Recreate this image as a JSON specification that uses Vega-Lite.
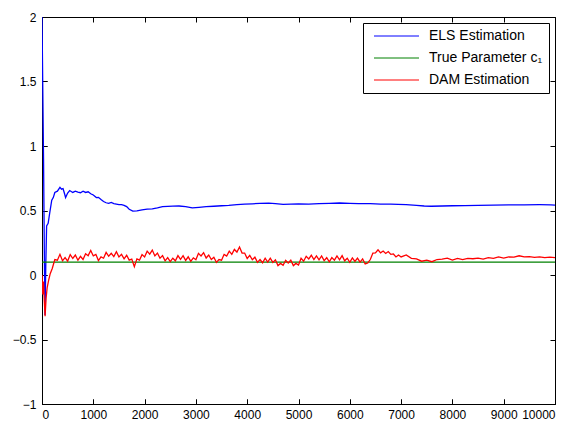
{
  "$schema": "https://vega.github.io/schema/vega-lite/v6.json",
  "width": 513,
  "height": 387,
  "autosize": {"type": "none"},
  "padding": {"left": 42, "top": 17, "right": 22, "bottom": 19},
  "background": "white",
  "config": {
    "view": {"stroke": "black", "strokeWidth": 1},
    "font": "Liberation Sans",
    "axis": {"domainColor": "black", "domainWidth": 1, "title": null, "labelColor": "black", "labelFont": "Liberation Sans", "labelFontSize": 12}
  },
  "data": {"values": [
      {"x": 0, "y": 2.0, "s": "ELS Estimation"},
      {"x": 30, "y": 0.9, "s": "ELS Estimation"},
      {"x": 45, "y": 0.2, "s": "ELS Estimation"},
      {"x": 58, "y": -0.31, "s": "ELS Estimation"},
      {"x": 75, "y": 0.1, "s": "ELS Estimation"},
      {"x": 90, "y": 0.38, "s": "ELS Estimation"},
      {"x": 120, "y": 0.4, "s": "ELS Estimation"},
      {"x": 150, "y": 0.48, "s": "ELS Estimation"},
      {"x": 190, "y": 0.58, "s": "ELS Estimation"},
      {"x": 220, "y": 0.6, "s": "ELS Estimation"},
      {"x": 250, "y": 0.64, "s": "ELS Estimation"},
      {"x": 300, "y": 0.65, "s": "ELS Estimation"},
      {"x": 350, "y": 0.68, "s": "ELS Estimation"},
      {"x": 380, "y": 0.665, "s": "ELS Estimation"},
      {"x": 410, "y": 0.67, "s": "ELS Estimation"},
      {"x": 440, "y": 0.63, "s": "ELS Estimation"},
      {"x": 460, "y": 0.6, "s": "ELS Estimation"},
      {"x": 500, "y": 0.635, "s": "ELS Estimation"},
      {"x": 540, "y": 0.655, "s": "ELS Estimation"},
      {"x": 600, "y": 0.64, "s": "ELS Estimation"},
      {"x": 650, "y": 0.65, "s": "ELS Estimation"},
      {"x": 700, "y": 0.643, "s": "ELS Estimation"},
      {"x": 750, "y": 0.638, "s": "ELS Estimation"},
      {"x": 800, "y": 0.65, "s": "ELS Estimation"},
      {"x": 850, "y": 0.64, "s": "ELS Estimation"},
      {"x": 900, "y": 0.645, "s": "ELS Estimation"},
      {"x": 950, "y": 0.63, "s": "ELS Estimation"},
      {"x": 1000, "y": 0.62, "s": "ELS Estimation"},
      {"x": 1060, "y": 0.6, "s": "ELS Estimation"},
      {"x": 1100, "y": 0.602, "s": "ELS Estimation"},
      {"x": 1150, "y": 0.585, "s": "ELS Estimation"},
      {"x": 1200, "y": 0.57, "s": "ELS Estimation"},
      {"x": 1250, "y": 0.56, "s": "ELS Estimation"},
      {"x": 1300, "y": 0.555, "s": "ELS Estimation"},
      {"x": 1350, "y": 0.562, "s": "ELS Estimation"},
      {"x": 1400, "y": 0.553, "s": "ELS Estimation"},
      {"x": 1450, "y": 0.55, "s": "ELS Estimation"},
      {"x": 1500, "y": 0.546, "s": "ELS Estimation"},
      {"x": 1550, "y": 0.545, "s": "ELS Estimation"},
      {"x": 1600, "y": 0.54, "s": "ELS Estimation"},
      {"x": 1650, "y": 0.53, "s": "ELS Estimation"},
      {"x": 1700, "y": 0.51, "s": "ELS Estimation"},
      {"x": 1770, "y": 0.495, "s": "ELS Estimation"},
      {"x": 1850, "y": 0.497, "s": "ELS Estimation"},
      {"x": 1950, "y": 0.505, "s": "ELS Estimation"},
      {"x": 2050, "y": 0.51, "s": "ELS Estimation"},
      {"x": 2150, "y": 0.513, "s": "ELS Estimation"},
      {"x": 2250, "y": 0.52, "s": "ELS Estimation"},
      {"x": 2350, "y": 0.53, "s": "ELS Estimation"},
      {"x": 2450, "y": 0.532, "s": "ELS Estimation"},
      {"x": 2550, "y": 0.534, "s": "ELS Estimation"},
      {"x": 2670, "y": 0.535, "s": "ELS Estimation"},
      {"x": 2800, "y": 0.53, "s": "ELS Estimation"},
      {"x": 2930, "y": 0.52, "s": "ELS Estimation"},
      {"x": 3060, "y": 0.525, "s": "ELS Estimation"},
      {"x": 3200, "y": 0.53, "s": "ELS Estimation"},
      {"x": 3350, "y": 0.533, "s": "ELS Estimation"},
      {"x": 3500, "y": 0.537, "s": "ELS Estimation"},
      {"x": 3640, "y": 0.54, "s": "ELS Estimation"},
      {"x": 3800, "y": 0.545, "s": "ELS Estimation"},
      {"x": 3950, "y": 0.55, "s": "ELS Estimation"},
      {"x": 4100, "y": 0.552, "s": "ELS Estimation"},
      {"x": 4250, "y": 0.555, "s": "ELS Estimation"},
      {"x": 4420, "y": 0.557, "s": "ELS Estimation"},
      {"x": 4550, "y": 0.553, "s": "ELS Estimation"},
      {"x": 4700, "y": 0.548, "s": "ELS Estimation"},
      {"x": 4850, "y": 0.55, "s": "ELS Estimation"},
      {"x": 5000, "y": 0.552, "s": "ELS Estimation"},
      {"x": 5200, "y": 0.55, "s": "ELS Estimation"},
      {"x": 5400, "y": 0.553, "s": "ELS Estimation"},
      {"x": 5600, "y": 0.556, "s": "ELS Estimation"},
      {"x": 5800, "y": 0.558, "s": "ELS Estimation"},
      {"x": 6000, "y": 0.556, "s": "ELS Estimation"},
      {"x": 6170, "y": 0.554, "s": "ELS Estimation"},
      {"x": 6400, "y": 0.553, "s": "ELS Estimation"},
      {"x": 6600, "y": 0.55, "s": "ELS Estimation"},
      {"x": 6800, "y": 0.55, "s": "ELS Estimation"},
      {"x": 6940, "y": 0.548, "s": "ELS Estimation"},
      {"x": 7100, "y": 0.546, "s": "ELS Estimation"},
      {"x": 7300, "y": 0.54, "s": "ELS Estimation"},
      {"x": 7450, "y": 0.535, "s": "ELS Estimation"},
      {"x": 7590, "y": 0.533, "s": "ELS Estimation"},
      {"x": 7800, "y": 0.535, "s": "ELS Estimation"},
      {"x": 8000, "y": 0.537, "s": "ELS Estimation"},
      {"x": 8240, "y": 0.538, "s": "ELS Estimation"},
      {"x": 8500, "y": 0.54, "s": "ELS Estimation"},
      {"x": 8800, "y": 0.541, "s": "ELS Estimation"},
      {"x": 9100, "y": 0.543, "s": "ELS Estimation"},
      {"x": 9400, "y": 0.544, "s": "ELS Estimation"},
      {"x": 9700, "y": 0.545, "s": "ELS Estimation"},
      {"x": 9920, "y": 0.544, "s": "ELS Estimation"},
      {"x": 10000, "y": 0.542, "s": "ELS Estimation"},
      {"x": 0, "y": 0.1, "s": "True Parameter c₁"},
      {"x": 10000, "y": 0.1, "s": "True Parameter c₁"},
      {"x": 0, "y": 0.0, "s": "DAM Estimation"},
      {"x": 15, "y": -0.15, "s": "DAM Estimation"},
      {"x": 30, "y": -0.05, "s": "DAM Estimation"},
      {"x": 45, "y": -0.2, "s": "DAM Estimation"},
      {"x": 60, "y": -0.32, "s": "DAM Estimation"},
      {"x": 80, "y": -0.18, "s": "DAM Estimation"},
      {"x": 100, "y": -0.1, "s": "DAM Estimation"},
      {"x": 130, "y": -0.04, "s": "DAM Estimation"},
      {"x": 160, "y": 0.01, "s": "DAM Estimation"},
      {"x": 200, "y": 0.05, "s": "DAM Estimation"},
      {"x": 250, "y": 0.12, "s": "DAM Estimation"},
      {"x": 300, "y": 0.115, "s": "DAM Estimation"},
      {"x": 350, "y": 0.16, "s": "DAM Estimation"},
      {"x": 400, "y": 0.11, "s": "DAM Estimation"},
      {"x": 450, "y": 0.135, "s": "DAM Estimation"},
      {"x": 500, "y": 0.108, "s": "DAM Estimation"},
      {"x": 550, "y": 0.158, "s": "DAM Estimation"},
      {"x": 600, "y": 0.128, "s": "DAM Estimation"},
      {"x": 650, "y": 0.155, "s": "DAM Estimation"},
      {"x": 700, "y": 0.115, "s": "DAM Estimation"},
      {"x": 750, "y": 0.145, "s": "DAM Estimation"},
      {"x": 800, "y": 0.12, "s": "DAM Estimation"},
      {"x": 850, "y": 0.165, "s": "DAM Estimation"},
      {"x": 900, "y": 0.15, "s": "DAM Estimation"},
      {"x": 950, "y": 0.19, "s": "DAM Estimation"},
      {"x": 1000, "y": 0.148, "s": "DAM Estimation"},
      {"x": 1050, "y": 0.16, "s": "DAM Estimation"},
      {"x": 1100, "y": 0.112, "s": "DAM Estimation"},
      {"x": 1150, "y": 0.14, "s": "DAM Estimation"},
      {"x": 1200, "y": 0.13, "s": "DAM Estimation"},
      {"x": 1250, "y": 0.175, "s": "DAM Estimation"},
      {"x": 1300, "y": 0.145, "s": "DAM Estimation"},
      {"x": 1350, "y": 0.168, "s": "DAM Estimation"},
      {"x": 1400, "y": 0.143, "s": "DAM Estimation"},
      {"x": 1450, "y": 0.18, "s": "DAM Estimation"},
      {"x": 1500, "y": 0.14, "s": "DAM Estimation"},
      {"x": 1550, "y": 0.16, "s": "DAM Estimation"},
      {"x": 1600, "y": 0.125, "s": "DAM Estimation"},
      {"x": 1650, "y": 0.153, "s": "DAM Estimation"},
      {"x": 1700, "y": 0.115, "s": "DAM Estimation"},
      {"x": 1750, "y": 0.123, "s": "DAM Estimation"},
      {"x": 1800, "y": 0.065, "s": "DAM Estimation"},
      {"x": 1850, "y": 0.125, "s": "DAM Estimation"},
      {"x": 1900, "y": 0.115, "s": "DAM Estimation"},
      {"x": 1950, "y": 0.158, "s": "DAM Estimation"},
      {"x": 2000, "y": 0.14, "s": "DAM Estimation"},
      {"x": 2050, "y": 0.185, "s": "DAM Estimation"},
      {"x": 2100, "y": 0.162, "s": "DAM Estimation"},
      {"x": 2150, "y": 0.193, "s": "DAM Estimation"},
      {"x": 2200, "y": 0.148, "s": "DAM Estimation"},
      {"x": 2250, "y": 0.17, "s": "DAM Estimation"},
      {"x": 2300, "y": 0.13, "s": "DAM Estimation"},
      {"x": 2350, "y": 0.15, "s": "DAM Estimation"},
      {"x": 2400, "y": 0.11, "s": "DAM Estimation"},
      {"x": 2450, "y": 0.135, "s": "DAM Estimation"},
      {"x": 2500, "y": 0.104, "s": "DAM Estimation"},
      {"x": 2550, "y": 0.13, "s": "DAM Estimation"},
      {"x": 2600, "y": 0.11, "s": "DAM Estimation"},
      {"x": 2650, "y": 0.15, "s": "DAM Estimation"},
      {"x": 2700, "y": 0.121, "s": "DAM Estimation"},
      {"x": 2750, "y": 0.15, "s": "DAM Estimation"},
      {"x": 2800, "y": 0.113, "s": "DAM Estimation"},
      {"x": 2850, "y": 0.141, "s": "DAM Estimation"},
      {"x": 2900, "y": 0.106, "s": "DAM Estimation"},
      {"x": 2950, "y": 0.133, "s": "DAM Estimation"},
      {"x": 3000, "y": 0.118, "s": "DAM Estimation"},
      {"x": 3050, "y": 0.168, "s": "DAM Estimation"},
      {"x": 3100, "y": 0.148, "s": "DAM Estimation"},
      {"x": 3150, "y": 0.173, "s": "DAM Estimation"},
      {"x": 3200, "y": 0.132, "s": "DAM Estimation"},
      {"x": 3250, "y": 0.155, "s": "DAM Estimation"},
      {"x": 3300, "y": 0.12, "s": "DAM Estimation"},
      {"x": 3350, "y": 0.138, "s": "DAM Estimation"},
      {"x": 3400, "y": 0.098, "s": "DAM Estimation"},
      {"x": 3450, "y": 0.12, "s": "DAM Estimation"},
      {"x": 3500, "y": 0.115, "s": "DAM Estimation"},
      {"x": 3550, "y": 0.16, "s": "DAM Estimation"},
      {"x": 3600, "y": 0.147, "s": "DAM Estimation"},
      {"x": 3650, "y": 0.185, "s": "DAM Estimation"},
      {"x": 3700, "y": 0.16, "s": "DAM Estimation"},
      {"x": 3750, "y": 0.198, "s": "DAM Estimation"},
      {"x": 3800, "y": 0.178, "s": "DAM Estimation"},
      {"x": 3850, "y": 0.217, "s": "DAM Estimation"},
      {"x": 3900, "y": 0.17, "s": "DAM Estimation"},
      {"x": 3950, "y": 0.17, "s": "DAM Estimation"},
      {"x": 4000, "y": 0.128, "s": "DAM Estimation"},
      {"x": 4050, "y": 0.152, "s": "DAM Estimation"},
      {"x": 4100, "y": 0.118, "s": "DAM Estimation"},
      {"x": 4150, "y": 0.138, "s": "DAM Estimation"},
      {"x": 4200, "y": 0.098, "s": "DAM Estimation"},
      {"x": 4250, "y": 0.12, "s": "DAM Estimation"},
      {"x": 4300, "y": 0.095, "s": "DAM Estimation"},
      {"x": 4350, "y": 0.13, "s": "DAM Estimation"},
      {"x": 4400, "y": 0.1, "s": "DAM Estimation"},
      {"x": 4450, "y": 0.13, "s": "DAM Estimation"},
      {"x": 4500, "y": 0.098, "s": "DAM Estimation"},
      {"x": 4550, "y": 0.118, "s": "DAM Estimation"},
      {"x": 4600, "y": 0.073, "s": "DAM Estimation"},
      {"x": 4650, "y": 0.09, "s": "DAM Estimation"},
      {"x": 4700, "y": 0.075, "s": "DAM Estimation"},
      {"x": 4750, "y": 0.114, "s": "DAM Estimation"},
      {"x": 4800, "y": 0.093, "s": "DAM Estimation"},
      {"x": 4850, "y": 0.115, "s": "DAM Estimation"},
      {"x": 4900, "y": 0.073, "s": "DAM Estimation"},
      {"x": 4950, "y": 0.09, "s": "DAM Estimation"},
      {"x": 5000, "y": 0.078, "s": "DAM Estimation"},
      {"x": 5050, "y": 0.13, "s": "DAM Estimation"},
      {"x": 5100, "y": 0.107, "s": "DAM Estimation"},
      {"x": 5150, "y": 0.145, "s": "DAM Estimation"},
      {"x": 5200, "y": 0.125, "s": "DAM Estimation"},
      {"x": 5250, "y": 0.153, "s": "DAM Estimation"},
      {"x": 5300, "y": 0.12, "s": "DAM Estimation"},
      {"x": 5350, "y": 0.148, "s": "DAM Estimation"},
      {"x": 5400, "y": 0.118, "s": "DAM Estimation"},
      {"x": 5450, "y": 0.148, "s": "DAM Estimation"},
      {"x": 5500, "y": 0.111, "s": "DAM Estimation"},
      {"x": 5550, "y": 0.134, "s": "DAM Estimation"},
      {"x": 5600, "y": 0.102, "s": "DAM Estimation"},
      {"x": 5650, "y": 0.135, "s": "DAM Estimation"},
      {"x": 5700, "y": 0.115, "s": "DAM Estimation"},
      {"x": 5750, "y": 0.148, "s": "DAM Estimation"},
      {"x": 5800, "y": 0.118, "s": "DAM Estimation"},
      {"x": 5850, "y": 0.15, "s": "DAM Estimation"},
      {"x": 5900, "y": 0.11, "s": "DAM Estimation"},
      {"x": 5950, "y": 0.13, "s": "DAM Estimation"},
      {"x": 6000, "y": 0.098, "s": "DAM Estimation"},
      {"x": 6050, "y": 0.132, "s": "DAM Estimation"},
      {"x": 6100, "y": 0.105, "s": "DAM Estimation"},
      {"x": 6150, "y": 0.131, "s": "DAM Estimation"},
      {"x": 6200, "y": 0.1, "s": "DAM Estimation"},
      {"x": 6250, "y": 0.125, "s": "DAM Estimation"},
      {"x": 6300, "y": 0.085, "s": "DAM Estimation"},
      {"x": 6350, "y": 0.093, "s": "DAM Estimation"},
      {"x": 6400, "y": 0.12, "s": "DAM Estimation"},
      {"x": 6450, "y": 0.17, "s": "DAM Estimation"},
      {"x": 6500, "y": 0.172, "s": "DAM Estimation"},
      {"x": 6550, "y": 0.195, "s": "DAM Estimation"},
      {"x": 6600, "y": 0.172, "s": "DAM Estimation"},
      {"x": 6650, "y": 0.186, "s": "DAM Estimation"},
      {"x": 6700, "y": 0.167, "s": "DAM Estimation"},
      {"x": 6750, "y": 0.182, "s": "DAM Estimation"},
      {"x": 6800, "y": 0.16, "s": "DAM Estimation"},
      {"x": 6850, "y": 0.163, "s": "DAM Estimation"},
      {"x": 6900, "y": 0.14, "s": "DAM Estimation"},
      {"x": 6950, "y": 0.155, "s": "DAM Estimation"},
      {"x": 7000, "y": 0.14, "s": "DAM Estimation"},
      {"x": 7100, "y": 0.156, "s": "DAM Estimation"},
      {"x": 7200, "y": 0.129, "s": "DAM Estimation"},
      {"x": 7300, "y": 0.125, "s": "DAM Estimation"},
      {"x": 7400, "y": 0.107, "s": "DAM Estimation"},
      {"x": 7500, "y": 0.115, "s": "DAM Estimation"},
      {"x": 7600, "y": 0.103, "s": "DAM Estimation"},
      {"x": 7700, "y": 0.12, "s": "DAM Estimation"},
      {"x": 7800, "y": 0.123, "s": "DAM Estimation"},
      {"x": 7900, "y": 0.13, "s": "DAM Estimation"},
      {"x": 8000, "y": 0.115, "s": "DAM Estimation"},
      {"x": 8100, "y": 0.129, "s": "DAM Estimation"},
      {"x": 8200, "y": 0.119, "s": "DAM Estimation"},
      {"x": 8300, "y": 0.129, "s": "DAM Estimation"},
      {"x": 8400, "y": 0.126, "s": "DAM Estimation"},
      {"x": 8500, "y": 0.131, "s": "DAM Estimation"},
      {"x": 8600, "y": 0.123, "s": "DAM Estimation"},
      {"x": 8700, "y": 0.134, "s": "DAM Estimation"},
      {"x": 8800, "y": 0.129, "s": "DAM Estimation"},
      {"x": 8900, "y": 0.14, "s": "DAM Estimation"},
      {"x": 9000, "y": 0.131, "s": "DAM Estimation"},
      {"x": 9100, "y": 0.141, "s": "DAM Estimation"},
      {"x": 9200, "y": 0.139, "s": "DAM Estimation"},
      {"x": 9300, "y": 0.149, "s": "DAM Estimation"},
      {"x": 9400, "y": 0.14, "s": "DAM Estimation"},
      {"x": 9500, "y": 0.143, "s": "DAM Estimation"},
      {"x": 9600, "y": 0.136, "s": "DAM Estimation"},
      {"x": 9700, "y": 0.141, "s": "DAM Estimation"},
      {"x": 9800, "y": 0.134, "s": "DAM Estimation"},
      {"x": 9900, "y": 0.138, "s": "DAM Estimation"},
      {"x": 10000, "y": 0.135, "s": "DAM Estimation"}
  ]},
  "mark": {"type": "line", "strokeWidth": 1.3, "clip": true},
  "encoding": {
    "x": {"field": "x", "type": "quantitative", "scale": {"domain": [0, 10000], "nice": false, "zero": false},
          "axis": {"ticks": true, "tickSize": -5, "tickColor": "black", "tickWidth": 1, "grid": true, "gridColor": "black", "gridOpacity": 1, "gridWidth": 1, "gridDash": [5, 377, 5, 2000], "values": [0,1000,2000,3000,4000,5000,6000,7000,8000,9000,10000], "format": "d", "labelPadding": 10}},
    "y": {"field": "y", "type": "quantitative", "scale": {"domain": [-1, 2], "nice": false, "zero": false},
          "axis": {"ticks": true, "tickSize": -5, "tickColor": "black", "tickWidth": 1, "grid": true, "gridColor": "black", "gridOpacity": 1, "gridWidth": 1, "gridDash": [5, 503, 5, 2000], "values": [-1,-0.5,0,0.5,1,1.5,2], "format": "~g", "labelPadding": 11}},
    "color": {"field": "s", "type": "nominal", "sort": null,
      "scale": {"domain": ["ELS Estimation", "True Parameter c₁", "DAM Estimation"], "range": ["#0000ff", "#008000", "#ff0000"]},
      "legend": {"orient": "none", "legendX": 321, "legendY": 6, "title": null, "symbolType": "M-1,0H8", "symbolSize": 100, "symbolStrokeWidth": 1, "symbolOffset": 3, "labelFont": "Liberation Sans", "labelFontSize": 14, "labelColor": "black", "labelOffset": 43, "strokeColor": "black", "fillColor": "white", "padding": 6, "rowPadding": 8, "cornerRadius": 0}
    },
    "order": {"field": "x", "type": "quantitative"}
  }
}
